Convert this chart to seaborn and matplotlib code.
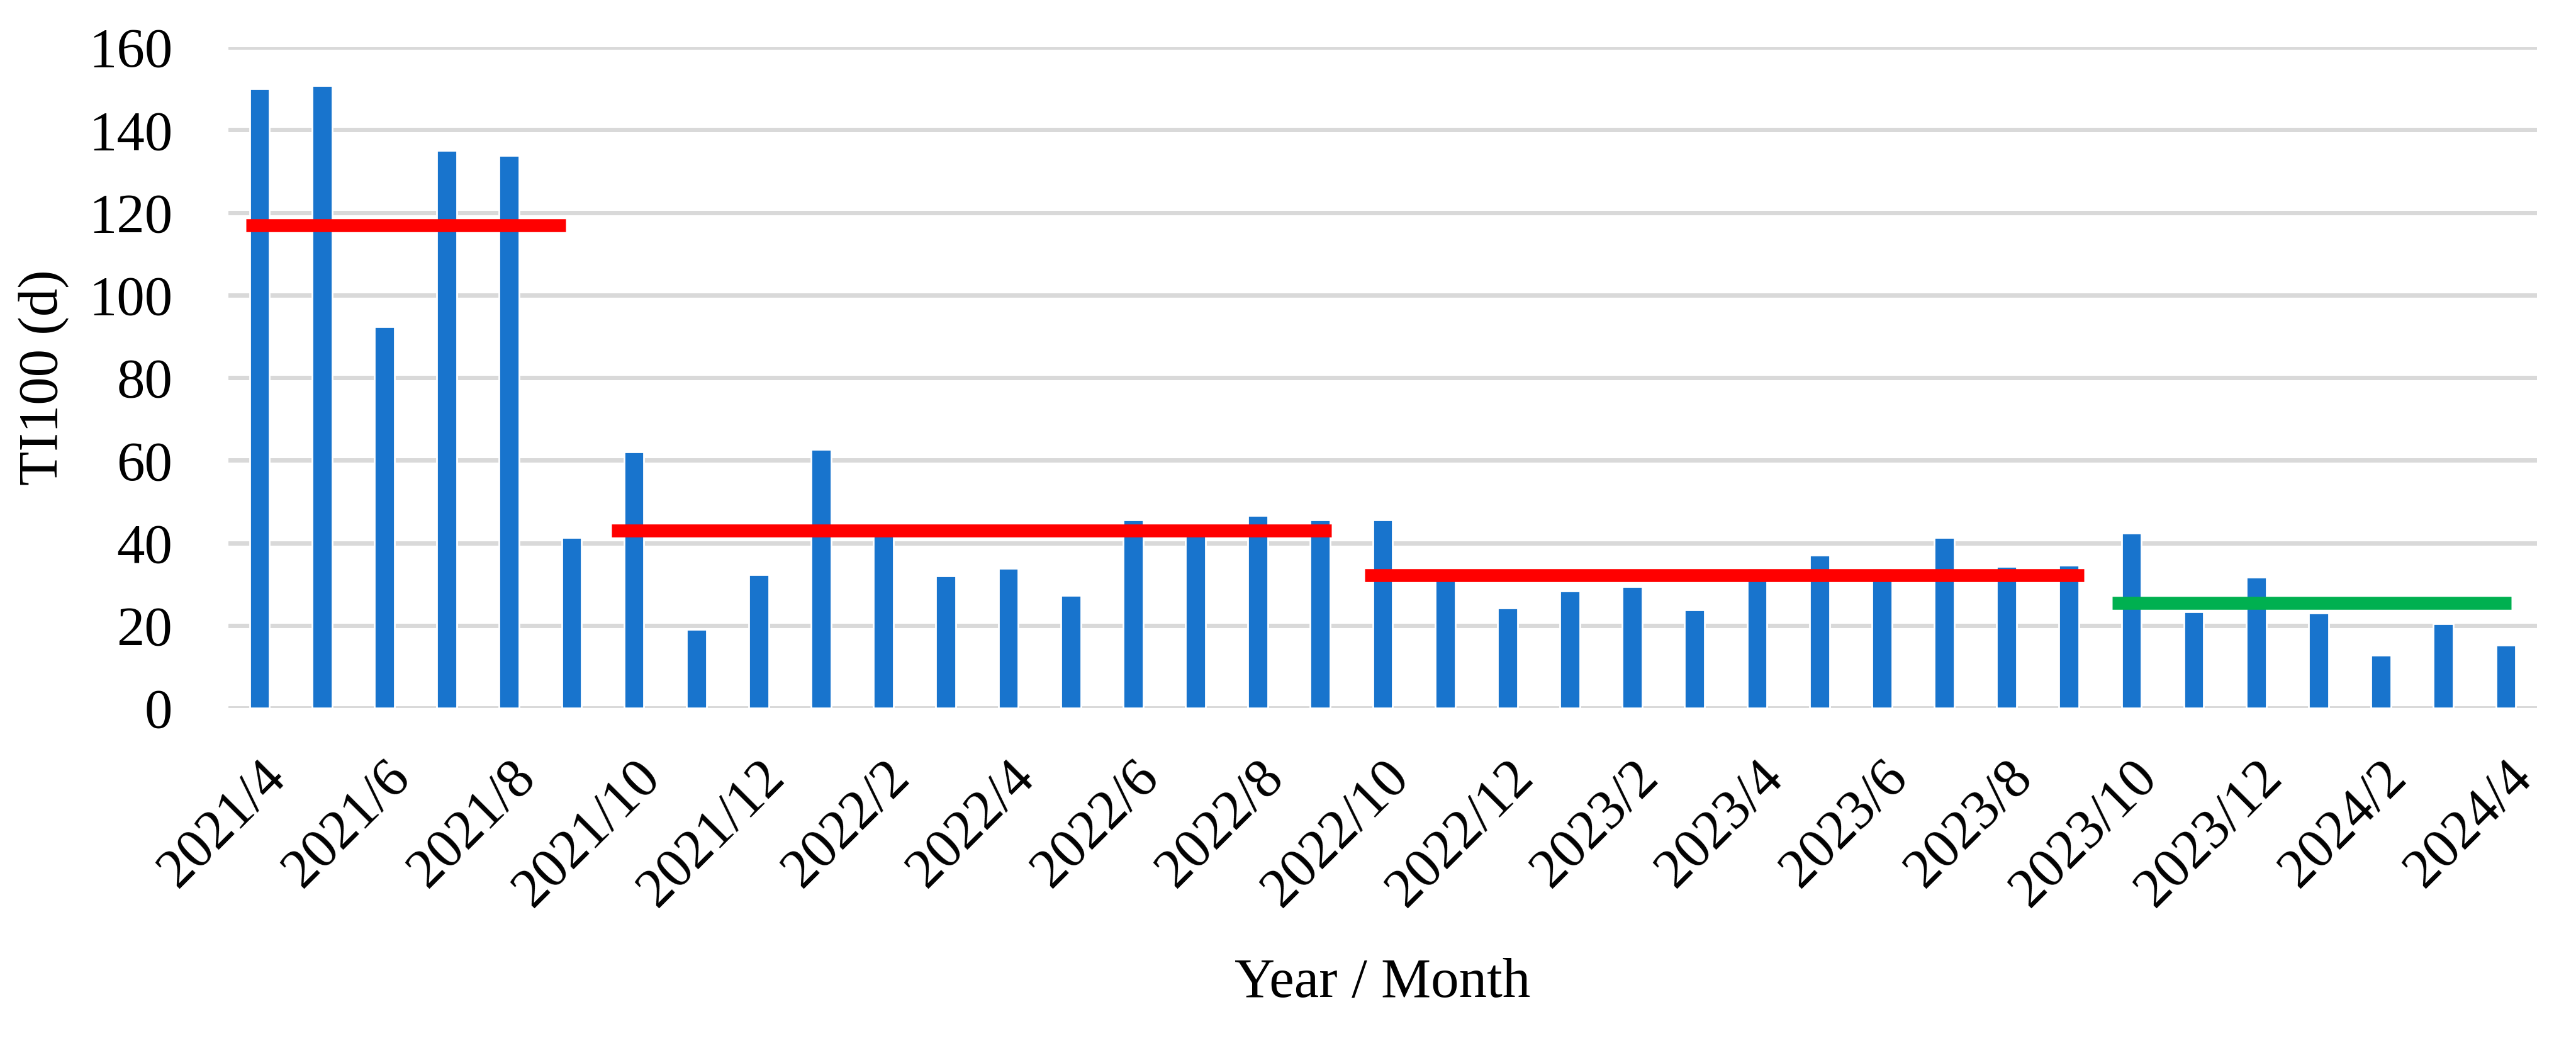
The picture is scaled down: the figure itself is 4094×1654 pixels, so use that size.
import numpy as np
import pandas as pd
import matplotlib
matplotlib.use('Agg')
import matplotlib.pyplot as plt
import seaborn as sns

# monthly TI100 values, 2021/4 .. 2024/4
months = [f'{p.year}/{p.month}' for p in pd.period_range('2021-04', '2024-04', freq='M')]
ti100 = [150.0, 150.7, 92.4, 135.0, 133.8, 41.3, 62.0, 19.0, 32.3, 62.7,
         42.0, 32.0, 33.9, 27.3, 45.6, 43.0, 46.6, 45.6, 45.6, 32.0,
         24.3, 28.3, 29.4, 23.7, 33.8, 37.1, 33.9, 41.3, 34.3, 34.6,
         42.3, 23.3, 31.7, 23.0, 12.8, 20.4, 15.3]

# period means (category units for the extent of each segment)
seg_start = [-0.22, 5.64, 17.71, 29.69]
seg_end = [4.91, 17.18, 29.24, 36.09]
seg_mean = [116.9, 43.0, 32.2, 25.5]
seg_color = ['#FF0000', '#FF0000', '#FF0000', '#00B050']

sns.set_theme(style='white')
plt.rcParams['font.family'] = ['Liberation Serif', 'DejaVu Serif']
plt.rcParams['text.color'] = 'black'
plt.rcParams['axes.labelcolor'] = 'black'
plt.rcParams['xtick.color'] = 'black'
plt.rcParams['ytick.color'] = 'black'

df = pd.DataFrame({'month': months, 'ti100': ti100})

fig = plt.figure(figsize=(20.47, 8.27), dpi=200)
ax = fig.add_axes([363 / 4094, 1 - 1125 / 1654, (4032 - 363) / 4094, (1125 - 75) / 1654])

sns.barplot(data=df, x='month', y='ti100', color='#1874CD', saturation=1,
            width=0.32, ax=ax, zorder=2)

ax.hlines(seg_mean, seg_start, seg_end, colors=seg_color, linewidth=7.4,
          capstyle='butt', zorder=3)

ax.set_xlim(-0.5, len(months) - 0.5)
ax.set_ylim(0, 160)
ax.set_yticks(np.arange(0, 161, 20))
ax.yaxis.grid(True, color='#D9D9D9', linewidth=2.5)
ax.set_axisbelow(True)
for s in ax.spines.values():
    s.set_visible(False)

ax.set_xticks(range(0, len(months), 2))
ax.set_xticklabels(months[::2], rotation=45, ha='right', va='top',
                   rotation_mode='anchor')
ax.tick_params(axis='x', length=0, pad=25, labelsize=32, labelcolor='black')
ax.tick_params(axis='y', length=0, pad=32, labelsize=32, labelcolor='black')

ax.set_ylabel('TI100 (d)', fontsize=32, labelpad=11, color='black')
ax.set_xlabel('Year / Month', fontsize=32, va='center', color='black')
ax.xaxis.set_label_coords(0.5, (1125 - 1562) / 1050)

fig.savefig('out.png', dpi=200)
